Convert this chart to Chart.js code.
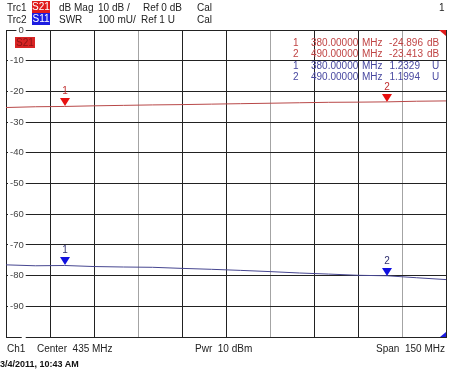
<!DOCTYPE html>
<html>
<head>
<meta charset="utf-8">
<script src="https://cdn.jsdelivr.net/npm/chart.js@4.4.1/dist/chart.umd.min.js"></script>
<style>
body { margin: 0; background: #fff; }
#wrap { position: relative; width: 450px; height: 374px; font-family: 'Liberation Sans', Arial, sans-serif; font-size: 10px; color: #222; overflow: hidden; }
#wrap canvas { position: absolute; left: 0; top: 0; }
.t { position: absolute; white-space: nowrap; line-height: 12px; }
.box { position: absolute; height: 12px; line-height: 12px; text-align: center; color: #fff; }
.m { font-size: 10px; }
</style>
</head>
<body>
<div id="wrap">
  <canvas id="vna" width="450" height="374"></canvas>

  <span class="t" style="left:7px;top:2px">Trc1</span>
  <span class="box" style="left:32px;top:1px;width:18px;background:#e01c1c">S21</span>
  <span class="t" style="left:59px;top:2px">dB Mag</span>
  <span class="t" style="left:98px;top:2px">10 dB /</span>
  <span class="t" style="left:143px;top:2px">Ref 0 dB</span>
  <span class="t" style="left:197px;top:2px">Cal</span>
  <span class="t" style="left:439px;top:2px">1</span>

  <span class="t" style="left:7px;top:14px">Trc2</span>
  <span class="box" style="left:32px;top:13px;width:18px;background:#1c1ce0">S11</span>
  <span class="t" style="left:59px;top:14px">SWR</span>
  <span class="t" style="left:98px;top:14px">100 mU/</span>
  <span class="t" style="left:141px;top:14px">Ref 1 U</span>
  <span class="t" style="left:197px;top:14px">Cal</span>

  <span class="box" style="left:15px;top:37px;width:20px;height:11px;line-height:11px;background:#d82424;color:#8c1414">S21</span>

  <div id="mtable"></div>

  <span class="t" style="left:7px;top:343px">Ch1</span>
  <span class="t" style="left:37px;top:343px">Center&nbsp; 435 MHz</span>
  <span class="t" style="left:195px;top:343px">Pwr&nbsp; 10 dBm</span>
  <span class="t" style="right:5px;top:343px">Span&nbsp; 150 MHz</span>
  <span class="t" style="left:0px;top:358px;font-size:9px;font-weight:bold;color:#111">3/4/2011, 10:43 AM</span>
</div>

<script>
// frequency points (MHz)
var freqs = [360, 370, 380, 390, 400, 410, 420, 430, 440, 450, 460, 470, 480, 490, 500, 510];
// Trc1 S21 dB Mag
var s21 = [-25.25, -25.0, -24.9, -24.7, -24.55, -24.4, -24.3, -24.15, -24.0, -23.85, -23.7, -23.55, -23.5, -23.41, -23.2, -23.1];
// Trc2 S11 SWR
var swr = [1.235, 1.232, 1.2329, 1.2295, 1.228, 1.227, 1.2235, 1.2205, 1.217, 1.213, 1.2085, 1.205, 1.201, 1.1994, 1.193, 1.187];

// markers
var markerFreq = [380, 490];
var markerS21 = [-24.896, -23.413];
var markerSwr = [1.2329, 1.1994];

var redTrace = '#b84848';
var blueTrace = '#464690';

function pts(xs, ys) {
    return xs.map(function(x, i){ return {x: x, y: ys[i]}; });
}

// marker readout table
var rows = [];
markerFreq.forEach(function(f, i){
    rows.push({n: i + 1, f: f, v: markerS21[i].toFixed(3), u: 'dB', c: '#c04444'});
});
markerFreq.forEach(function(f, i){
    rows.push({n: i + 1, f: f, v: markerSwr[i].toFixed(4), u: 'U', c: '#4848a0'});
});
var tops = [37, 48, 60, 71];
var html = '';
rows.forEach(function(r, i){
    var top = tops[i];
    var st = 'top:' + top + 'px;color:' + r.c;
    html += '<span class="t m" style="left:293px;' + st + '">' + r.n + '</span>';
    html += '<span class="t m" style="left:311px;' + st + '">' + r.f.toFixed(5) + '</span>';
    html += '<span class="t m" style="left:362px;' + st + '">MHz</span>';
    if (r.u == 'dB') {
        html += '<span class="t m" style="right:27px;' + st + '">' + r.v + '</span>';
        html += '<span class="t m" style="left:427px;' + st + '">dB</span>';
    } else {
        html += '<span class="t m" style="right:30px;' + st + '">' + r.v + '</span>';
        html += '<span class="t m" style="left:432px;' + st + '">U</span>';
    }
});
document.getElementById('mtable').innerHTML = html;

var markerPlugin = {
    id: 'markers',
    afterDatasetsDraw: function(chart) {
        var ctx = chart.ctx;
        ctx.save();
        chart.data.datasets.forEach(function(ds, i){
            if (!ds.marker) return;
            var meta = chart.getDatasetMeta(i);
            meta.data.forEach(function(pt, j){
                var x = Math.round(pt.x), y = Math.round(pt.y);
                ctx.fillStyle = ds.markerColor;
                ctx.beginPath();
                ctx.moveTo(x - 5, y - 8);
                ctx.lineTo(x + 5, y - 8);
                ctx.lineTo(x, y);
                ctx.closePath();
                ctx.fill();
                ctx.font = '10px "Liberation Sans", Arial';
                ctx.textAlign = 'center';
                ctx.textBaseline = 'bottom';
                ctx.fillStyle = ds.labelColor;
                ctx.fillText(String(j + 1), x, y - 10);
            });
        });
        // little corner flags of the two traces
        var a = chart.chartArea;
        ctx.fillStyle = '#e01c1c';
        ctx.beginPath();
        ctx.moveTo(a.right - 7, a.top);
        ctx.lineTo(a.right, a.top);
        ctx.lineTo(a.right, a.top + 6);
        ctx.closePath();
        ctx.fill();
        ctx.fillStyle = '#1c1ce0';
        ctx.beginPath();
        ctx.moveTo(a.right - 6, a.bottom);
        ctx.lineTo(a.right, a.bottom);
        ctx.lineTo(a.right, a.bottom - 5);
        ctx.closePath();
        ctx.fill();
        ctx.restore();
    }
};

var ctx = document.getElementById('vna').getContext('2d');
var chart = new Chart(ctx, {
    type: 'line',
    data: {
        datasets: [{
            label: 'S21',
            data: pts(freqs, s21),
            yAxisID: 'y',
            borderColor: redTrace,
            borderWidth: 1,
            pointRadius: 0,
            tension: 0
        }, {
            label: 'S11',
            data: pts(freqs, swr),
            yAxisID: 'y2',
            borderColor: blueTrace,
            borderWidth: 1,
            pointRadius: 0,
            tension: 0
        }, {
            label: 'M S21',
            data: pts(markerFreq, markerS21),
            yAxisID: 'y',
            showLine: false,
            pointRadius: 0,
            marker: true,
            markerColor: '#e81010',
            labelColor: '#c03030'
        }, {
            label: 'M S11',
            data: pts(markerFreq, markerSwr),
            yAxisID: 'y2',
            showLine: false,
            pointRadius: 0,
            marker: true,
            markerColor: '#1010e0',
            labelColor: '#303070'
        }]
    },
    options: {
        responsive: false,
        animation: false,
        layout: { padding: { left: 6, top: 30, right: 4, bottom: 37 } },
        plugins: {
            legend: { display: false },
            tooltip: { enabled: false }
        },
        scales: {
            x: {
                type: 'linear',
                min: 360,
                max: 510,
                ticks: { display: false, stepSize: 15 },
                grid: {
                    drawTicks: false,
                    color: function(c){ return (c.index == 3 || c.index == 6 || c.index == 9) ? '#a4a4a4' : '#222'; }
                },
                border: { color: '#222' }
            },
            y: {
                min: -100,
                max: 0,
                afterFit: function(s){ s.width = 0; },
                ticks: {
                    stepSize: 10,
                    mirror: true,
                    crossAlign: 'far',
                    padding: 4,
                    color: '#444',
                    font: { size: 9.5, family: '"Liberation Sans", Arial' },
                    showLabelBackdrop: true,
                    backdropColor: '#fff',
                    backdropPadding: { left: 2, right: 2, top: 0, bottom: 0 },
                    callback: function(v){ return v == -100 ? '' : v; }
                },
                grid: { drawTicks: false, color: '#222' },
                border: { color: '#222' }
            },
            y2: {
                display: false,
                min: 1,
                max: 2
            }
        }
    },
    plugins: [markerPlugin]
});
</script>
</body>
</html>
